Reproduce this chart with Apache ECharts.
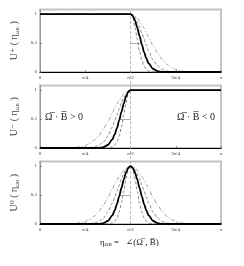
<!DOCTYPE html>
<html><head><meta charset="utf-8">
<script src="https://cdn.jsdelivr.net/npm/echarts@6/dist/echarts.min.js"></script>
<style>html,body{margin:0;padding:0;background:#fff}#c{width:244px;height:266px}</style>
</head><body><div id="c"></div>
<script>
// x tick labels (0 .. pi in steps of pi/4)
const tickLabels = ['0', 'π/4', 'π/2', '3π/4', 'π'];
// offsets from pi/2, in units of pi/40
const offsetK = [0,0.5,1,1.5,2,2.5,3,3.5,4,5,6,7,8,9,10,11,12,13,14];
// half-profiles (value vs distance from pi/2)
const profNarrow  = [1,0.939,0.777,0.566,0.363,0.206,0.103,0.045,0.017,0.002,0,0,0,0,0,0,0,0,0];
const profThick   = [1,0.971,0.888,0.766,0.623,0.477,0.344,0.234,0.150,0.052,0.014,0.003,0,0,0,0,0,0,0];
const profWide    = [1,0.984,0.939,0.868,0.777,0.674,0.566,0.461,0.363,0.206,0.103,0.045,0.017,0.006,0.002,0,0,0,0];
const profWidest  = [1,0.992,0.969,0.932,0.883,0.822,0.755,0.682,0.607,0.458,0.325,0.216,0.135,0.080,0.044,0.023,0.011,0.005,0.002];
// half width at half maximum of the thick curve (rad)
const hwhmThick = 0.19;
const yTitles = ['U⁺', 'U⁻', 'U⁰'];

const PI = Math.PI, MID = PI / 2, STEP = PI / 40;

function symData(p) {
  const out = [[0, 0]];
  for (let i = offsetK.length - 1; i > 0; i--) out.push([MID - offsetK[i] * STEP, p[i]]);
  for (let i = 0; i < offsetK.length; i++) out.push([MID + offsetK[i] * STEP, p[i]]);
  out.push([PI, 0]);
  return out;
}
function plusData(p) {
  const out = [[0, 1]];
  for (let i = 0; i < offsetK.length; i++) out.push([MID + offsetK[i] * STEP, p[i]]);
  out.push([PI, 0]);
  return out;
}
function minusData(p) {
  const out = [[0, 0]];
  for (let i = offsetK.length - 1; i >= 0; i--) out.push([MID - offsetK[i] * STEP, p[i]]);
  out.push([PI, 1]);
  return out;
}

const styles = [
  {p: profWidest, ls: {color: '#9a9a9a', width: 0.9, type: [4, 2, 1, 2]}},
  {p: profWide, ls: {color: '#777', width: 0.9, type: [3, 2]}},
  {p: profNarrow, ls: {color: '#777', width: 0.9, type: [3, 2]}},
  {p: profThick, ls: {color: '#000', width: 1.8, type: 'solid'}}
];
const builders = [plusData, minusData, symData];
const tops = [9.5, 85.5, 161.5];
const H = 62.5;
const serif = '"Liberation Serif", "DejaVu Serif", serif';

const grids = [], xAxes = [], yAxes = [], series = [];
for (let g = 0; g < 3; g++) {
  grids.push({left: 40, right: 23, top: tops[g], height: H, show: true, borderColor: '#c4c4c4', borderWidth: 2, backgroundColor: 'transparent'});
  xAxes.push({type: 'value', gridIndex: g, min: 0, max: PI, interval: PI / 4,
    axisLine: {show: true, onZero: false, lineStyle: {color: '#000', width: 1}},
    axisTick: {show: true, inside: true, length: 2, lineStyle: {color: '#555', width: 0.6}},
    splitLine: {show: false},
    axisLabel: {fontSize: 5, color: '#333', fontFamily: serif, margin: 3,
      formatter: (v) => tickLabels[Math.round(v / (PI / 4))]}});
  yAxes.push({type: 'value', gridIndex: g, min: 0, max: 1.08,
    axisLine: {show: true, lineStyle: {color: '#999', width: 1}},
    axisTick: {show: true, inside: true, length: 2, customValues: [0, 0.5, 1], lineStyle: {color: '#555', width: 0.6}},
    splitLine: {show: false},
    axisLabel: {fontSize: 5, color: '#333', fontFamily: serif, margin: 3, customValues: [0, 0.5, 1]},
    name: '{a|' + yTitles[g] + '}{b| (}{c| η}{d|ΩB}{b| )}', nameLocation: 'middle', nameRotate: 90, nameGap: 15,
    nameTextStyle: {rich: {
      a: {fontSize: 10, fontFamily: serif, color: '#444'},
      b: {fontSize: 10, fontFamily: serif, color: '#444'},
      c: {fontSize: 10, fontFamily: serif, color: '#444'},
      d: {fontSize: 5, fontFamily: serif, color: '#444', padding: [6, 0, 0, 0]}
    }}});
  styles.forEach((s, i) => {
    const ser = {type: 'line', xAxisIndex: g, yAxisIndex: g, data: builders[g](s.p), showSymbol: false,
      smooth: 0.3, smoothMonotone: 'x', lineStyle: s.ls, z: 2 + i, silent: true, animation: false};
    if (i === 3) {
      const x2 = g === 0 ? MID + hwhmThick : MID - hwhmThick;
      ser.markLine = {silent: true, symbol: 'none', animation: false, label: {show: false},
        lineStyle: {color: '#999', width: 0.8, type: 'solid'},
        data: [[{coord: [MID, 0.5]}, {coord: [x2, 0.5]}]]};
    }
    series.push(ser);
  });
}
// overlay grid for the vertical pi/2 line crossing all panels
grids.push({left: 40, right: 23, top: 9.5, bottom: 42, show: false});
xAxes.push({type: 'value', gridIndex: 3, min: 0, max: PI, show: false});
yAxes.push({type: 'value', gridIndex: 3, min: 0, max: 1, show: false});
series.push({type: 'line', xAxisIndex: 3, yAxisIndex: 3, data: [], silent: true,
  markLine: {silent: true, symbol: 'none', animation: false, label: {show: false},
    lineStyle: {color: '#aaa', width: 0.8, type: [3, 2]}, data: [{xAxis: MID}]}});

const chart = echarts.init(document.getElementById('c'), null, {renderer: 'canvas'});
chart.setOption({
  animation: false,
  grid: grids, xAxis: xAxes, yAxis: yAxes, series: series,
  graphic: [
    {type: 'text', left: 45, top: 112, style: {text: 'Ω̅ · B̅ > 0', fontSize: 10, fontFamily: serif, fill: '#222'}},
    {type: 'text', left: 177, top: 112, style: {text: 'Ω̅ · B̅ < 0', fontSize: 10, fontFamily: serif, fill: '#222'}},
    {type: 'text', left: 100, top: 238, style: {rich: {
        e: {fontSize: 9, fontFamily: serif, fill: '#222'},
        s: {fontSize: 5, fontFamily: serif, fill: '#222', padding: [5, 0, 0, 0]}
      }, text: '{e|η}{s|ΩB}{e| =   ∠(Ω̅ , B̅)}'}}
  ]
});
</script></body></html>
